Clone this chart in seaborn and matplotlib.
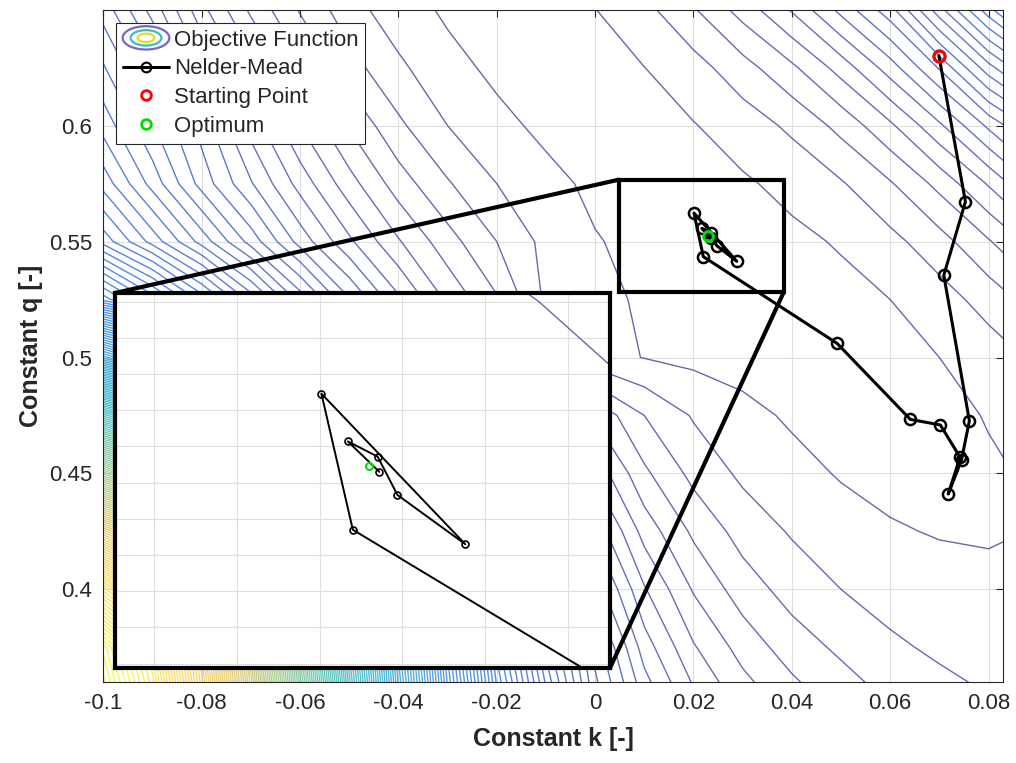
import numpy as np
import matplotlib
matplotlib.use("Agg")
import matplotlib.pyplot as plt
import seaborn as sns
from matplotlib.colors import LinearSegmentedColormap, Normalize
from matplotlib.patches import Ellipse, Rectangle, ConnectionPatch
from matplotlib.legend_handler import HandlerBase
from matplotlib.lines import Line2D

# ----- objective function, estimated on a coarse grid -----
k_grid = [-0.10, -0.09, -0.08, -0.07, -0.06, -0.05, -0.04, -0.03, -0.02, -0.01,
          0.00, 0.01, 0.02, 0.03, 0.04, 0.05, 0.06, 0.07, 0.08, 0.09]
q_grid = [0.35, 0.375, 0.40, 0.425, 0.45, 0.475, 0.50, 0.525, 0.55, 0.575, 0.60, 0.625, 0.65]
z_grid = [
    [189, 179, 161, 137, 110, 84, 61, 43, 29, 20, 13, 9.3, 6.8, 5.1, 4.0, 3.1, 2.4, 1.9, 1.5, 1.2],
    [186, 176, 158, 134, 107, 81, 59, 41, 27, 18, 12, 7.9, 5.5, 4.0, 2.9, 2.2, 1.6, 1.2, 0.94, 0.75],
    [172, 163, 146, 124, 99, 75, 53, 37, 24, 16, 10, 6.5, 4.3, 2.9, 2.0, 1.4, 0.95, 0.69, 0.54, 0.49],
    [148, 140, 125, 106, 84, 64, 45, 31, 20, 13, 8.1, 5.0, 3.2, 2.0, 1.3, 0.77, 0.47, 0.35, 0.34, 0.42],
    [119, 111, 99, 83, 66, 50, 36, 24, 16, 9.9, 6.1, 3.6, 2.1, 1.2, 0.68, 0.33, 0.18, 0.19, 0.31, 0.49],
    [89, 82, 73, 61, 48, 36, 26, 18, 11, 7.1, 4.2, 2.4, 1.3, 0.65, 0.28, 0.08, 0.07, 0.20, 0.44, 0.84],
    [55, 49, 42, 35, 28, 21, 15, 10, 6.5, 1.6, 0.75, 0.37, 0.15, 0.05, 0.02, 0.02, 0.11, 0.40, 0.88, 1.6],
    [30, 26, 22, 18, 14, 10.5, 7.6, 5.2, 3.5, 1.2, 0.60, 0.30, 0.12, 0.04, 0.03, 0.11, 0.40, 0.96, 1.8, 2.9],
    [22, 19, 16, 13, 10, 7.6, 5.5, 3.8, 2.4, 1.1, 0.45, 0.18, 0.07, 0.06, 0.18, 0.49, 1.1, 2.0, 3.3, 4.9],
    [19, 16, 13, 10.5, 8.0, 5.8, 3.9, 2.5, 1.4, 0.65, 0.22, 0.06, 0.08, 0.27, 0.67, 1.3, 2.3, 3.7, 5.5, 7.7],
    [17, 14.5, 12, 9.0, 6.4, 4.3, 2.6, 1.4, 0.64, 0.20, 0.05, 0.09, 0.35, 0.87, 1.6, 2.7, 4.2, 6.2, 8.6, 11],
    [15.5, 13, 9.5, 6.8, 4.6, 2.8, 1.6, 0.69, 0.20, 0.03, 0.08, 0.39, 1.0, 2.0, 3.2, 4.8, 6.9, 9.5, 13, 16],
    [14, 11, 7.7, 5.2, 3.3, 1.8, 0.83, 0.25, 0.02, 0.06, 0.38, 1.1, 2.3, 3.8, 5.5, 7.7, 10, 14, 18, 22],
]

# ----- Nelder-Mead path (best point per iteration) -----
path_k = [0.0699, 0.0753, 0.0709, 0.0761, 0.0745, 0.0718, 0.0742, 0.0702, 0.0641, 0.0492,
          0.0220, 0.0201, 0.0288, 0.0247, 0.0235, 0.0217, 0.0236]
path_q = [0.6302, 0.5672, 0.5355, 0.4727, 0.4558, 0.4411, 0.4570, 0.4709, 0.4733, 0.5061,
          0.5435, 0.5623, 0.5415, 0.5483, 0.5536, 0.5557, 0.5515]
start_pt = (0.0699, 0.6302)
optimum_pt = (0.0230, 0.5523)

zoom_box_k = (0.0048, 0.0384)
zoom_box_q = (0.5284, 0.5767)
inset_k = (0.00762, 0.03755)
inset_q = (0.5244, 0.5762)

parula = LinearSegmentedColormap.from_list(
    "parula", ["#352a87", "#0f5cdd", "#1481d6", "#06a4ca", "#2eb7a4",
               "#87bf77", "#d1bb59", "#fec832", "#f9fb0e"])

sns.set_theme(style="white")
plt.rcParams["font.family"] = ["Liberation Sans", "DejaVu Sans"]
dark = "#262626"

Z = np.array(z_grid)
zmax = Z.max()
levels = np.arange(0.4, zmax, 1.0)
norm = Normalize(0, zmax)

fig = plt.figure(figsize=(10.16, 7.63), dpi=100)
ax = fig.add_axes([103.4 / 1016, 1 - 682.3 / 763, 899.9 / 1016, 672.3 / 763])

ax.contour(k_grid, q_grid, Z, levels=levels, cmap=parula, norm=norm,
           linewidths=1.0, alpha=0.72)

sns.lineplot(x=path_k, y=path_q, sort=False, estimator=None, ax=ax, color="black",
             lw=2.2, marker="o", markersize=8, markerfacecolor="none",
             markeredgecolor="black", markeredgewidth=1.8, zorder=5)
ax.plot(*start_pt, "o", ms=8, mfc="none", mec="red", mew=2.2, zorder=6)
ax.plot(*optimum_pt, "o", ms=7, mfc="none", mec="#00dd00", mew=2.2, zorder=6)

ax.set_xlim(-0.1, 0.083)
ax.set_ylim(0.3599, 0.6499)
ax.set_xticks([-0.1, -0.08, -0.06, -0.04, -0.02, 0, 0.02, 0.04, 0.06, 0.08])
ax.set_yticks([0.4, 0.45, 0.5, 0.55, 0.6])
ax.xaxis.set_major_formatter(plt.FuncFormatter(lambda v, p: f"{v:g}"))
ax.yaxis.set_major_formatter(plt.FuncFormatter(lambda v, p: f"{v:g}"))
ax.tick_params(direction="in", length=5, width=0.8, colors=dark, labelsize=16,
               top=True, right=True, pad=8)
ax.grid(True, color="#dedede", lw=0.8)
for s in ax.spines.values():
    s.set_color(dark)
    s.set_linewidth(0.8)
ax.set_xlabel("Constant k [-]", fontsize=18, fontweight="bold", labelpad=9)
ax.set_ylabel("Constant q [-]", fontsize=18, fontweight="bold", labelpad=4)

# zoom box on the main axes
ax.add_patch(Rectangle((zoom_box_k[0], zoom_box_q[0]), zoom_box_k[1] - zoom_box_k[0],
                       zoom_box_q[1] - zoom_box_q[0], fill=False, ec="black", lw=3, zorder=7))

# inset with the last iterations
axins = fig.add_axes([115 / 1016, 1 - 668 / 763, 495 / 1016, 375 / 763])
axins.set_facecolor("white")
axins.contour(k_grid, q_grid, Z, levels=levels, cmap=parula, norm=norm,
              linewidths=1.0, alpha=0.72)
sns.lineplot(x=path_k, y=path_q, sort=False, estimator=None, ax=axins, color="black",
             lw=1.4, marker="o", markersize=5, markerfacecolor="none",
             markeredgecolor="black", markeredgewidth=1.2, zorder=5)
axins.plot(*optimum_pt, "o", ms=5, mfc="none", mec="#00dd00", mew=1.5, zorder=6)
axins.set_xlim(*inset_k)
axins.set_ylim(*inset_q)
axins.set_xticks(np.arange(0.01, 0.0351, 0.005))
axins.set_yticks(np.arange(0.525, 0.5751, 0.005))
axins.tick_params(length=0, labelbottom=False, labelleft=False)
axins.set_xlabel("")
axins.set_ylabel("")
axins.grid(True, color="#dedede", lw=0.8)
for s in axins.spines.values():
    s.set_color("black")
    s.set_linewidth(3)

for xyA, xyB in [((zoom_box_k[0], zoom_box_q[1]), (0, 1)),
                 ((zoom_box_k[1], zoom_box_q[0]), (1, 0))]:
    con = ConnectionPatch(xyA=xyA, coordsA=ax.transData, xyB=xyB, coordsB=axins.transAxes,
                          color="black", lw=3, zorder=8)
    fig.add_artist(con)


class EllipseHandler(HandlerBase):
    # concentric contour rings, like the legend icon of a contour plot
    def create_artists(self, legend, orig_handle, xdescent, ydescent, width, height,
                       fontsize, trans):
        cx, cy = width / 2 - xdescent, height / 2 - ydescent
        arts = []
        for sc, col in [(1.0, "#7468c4"), (0.66, "#3fbcc4"), (0.36, "#e2dc2c")]:
            arts.append(Ellipse((cx, cy), width * sc, height * 1.5 * sc, fill=False,
                                ec=col, lw=1.6, transform=trans))
        return arts


obj_handle = object()
handles = [obj_handle,
           Line2D([], [], color="black", lw=2.2, marker="o", ms=7, mfc="none", mec="black", mew=1.5),
           Line2D([], [], ls="none", marker="o", ms=7, mfc="none", mec="red", mew=2),
           Line2D([], [], ls="none", marker="o", ms=7, mfc="none", mec="#00dd00", mew=2)]
labels = ["Objective Function", "Nelder-Mead", "Starting Point", "Optimum"]
leg = ax.legend(handles, labels, handler_map={obj_handle: EllipseHandler()},
                loc="upper left", bbox_to_anchor=(0.014, 0.9807), borderaxespad=0,
                fontsize=16, handlelength=2.1, handletextpad=0.2, labelspacing=0.35,
                borderpad=0.3, fancybox=False, framealpha=1, edgecolor=dark)
leg.get_frame().set_linewidth(0.8)
leg.set_zorder(10)

fig.savefig("out.png", dpi=100)
